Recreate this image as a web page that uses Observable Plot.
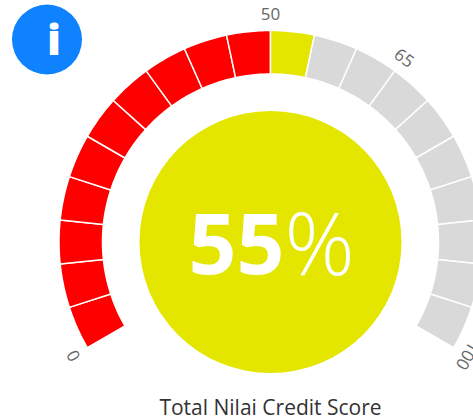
<!DOCTYPE html>
<html>
<head>
<meta charset="utf-8">
<script src="https://cdn.jsdelivr.net/npm/d3@7"></script>
<script src="https://cdn.jsdelivr.net/npm/@observablehq/plot@0.6"></script>
<style>
html,body{margin:0;padding:0;background:#fff;overflow:hidden}
svg{display:block}
</style>
</head>
<body>
<div id="chart"></div>
<script>
const segmentStarts = [0,5,10,15,20,25,30,35,40,45,50,55,60,65,70,75,80,85,90,95];
const segmentSize = 5;
const score = 55;
const tickLabels = [0, 50, 65, 100];
const chartTitle = "Total Nilai Credit Score";
const passColor = "#e4e600", failColor = "#ff0000", restColor = "#d9d9d9";

const cx = 270, cy = 241.5, degPerUnit = 2.4;
const innerR = 168, outerR = 211.5, labelR = 227, discR = 131;

function polar(v, r) {
  const a = (v - 50) * degPerUnit * Math.PI / 180;
  return [cx + r * Math.sin(a), cy - r * Math.cos(a)];
}
// Gauge projection: x = score, y = radius; long edges follow the arc.
const gaugeProjection = {
  stream(out) {
    let prev = null, inLine = false;
    return {
      point(v, r) {
        if (inLine && prev && prev[1] === r) {
          for (let i = 1; i < 16; ++i) {
            out.point(...polar(prev[0] + (v - prev[0]) * i / 16, r));
          }
        }
        out.point(...polar(v, r));
        prev = [v, r];
      },
      lineStart() { inLine = true; prev = null; out.lineStart(); },
      lineEnd() { inLine = false; prev = null; out.lineEnd(); },
      polygonStart() { out.polygonStart(); },
      polygonEnd() { out.polygonEnd(); },
      sphere() {}
    };
  }
};

const colorOf = (s) => s < 50 ? failColor : s < score ? passColor : restColor;
const segments = segmentStarts.map((s) => ({
  type: "Feature",
  properties: {fill: colorOf(s)},
  geometry: {type: "Polygon", coordinates: [[
    [s, outerR], [s + segmentSize, outerR], [s + segmentSize, innerR], [s, innerR], [s, outerR]
  ]]}
}));

const plot = Plot.plot({
  width: 473,
  height: 418,
  margin: 0,
  projection: gaugeProjection,
  color: {type: "identity"},
  style: {background: "#fff", overflow: "hidden"},
  marks: [
    Plot.geo(segments, {fill: (d) => d.properties.fill, stroke: "#fff", strokeWidth: 1.5}),
    Plot.dot([score], {x: () => 50, y: () => 0, r: discR, fill: passColor}),
    Plot.text([score], {
      x: () => 50, y: () => 0, text: (d) => String(d), fill: "#fff",
      fontFamily: "Open Sans", fontWeight: 700, fontSize: 84, textAnchor: "end", dx: 14, dy: 5
    }),
    Plot.text(["%"], {
      x: () => 50, y: () => 0, text: (d) => d, fill: "#fff",
      fontFamily: "Open Sans", fontWeight: 300, fontSize: 87, textAnchor: "start", dx: 14, dy: 5
    }),
    Plot.text(tickLabels, {
      x: (d) => d, y: () => labelR, text: (d) => String(d),
      rotate: (d) => (d - 50) * degPerUnit,
      fill: "#666", fontFamily: "Open Sans", fontSize: 17
    }),
    Plot.dot(["info"], {frameAnchor: "top-left", dx: 46.5, dy: 39, r: 35, fill: "#0f82ff"}),
    Plot.text(["i"], {
      frameAnchor: "top-left", dx: 46.5, dy: 24, text: (d) => d, fill: "#fff",
      fontFamily: "Open Sans", fontWeight: 800, fontSize: 43
    }),
    Plot.text([chartTitle], {
      frameAnchor: "top-left", lineAnchor: "middle", dx: 270, dy: 407.5, text: (d) => d, textAnchor: "middle",
      fill: "#333", fontFamily: "Open Sans", fontSize: 21
    })
  ]
});
document.getElementById("chart").append(plot);
</script>
</body>
</html>
